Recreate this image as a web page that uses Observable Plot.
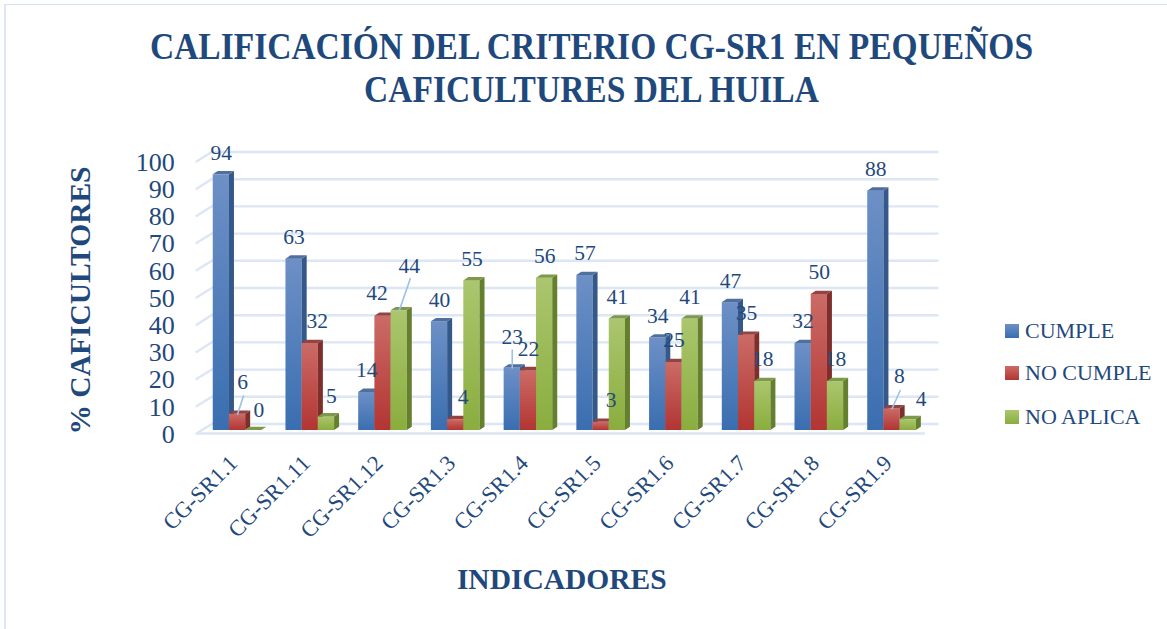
<!DOCTYPE html>
<html lang="es">
<head>
<meta charset="utf-8">
<title>Calificación del criterio CG-SR1</title>
<script src="https://cdn.jsdelivr.net/npm/d3@7"></script>
<script src="https://cdn.jsdelivr.net/npm/@observablehq/plot@0.6"></script>
<style>
  html, body { margin: 0; padding: 0; background: #fff; }
  body { width: 1167px; height: 629px; overflow: hidden; position: relative; font-family: "Liberation Serif", serif; color: #1f497d; }
  #frame { position: absolute; left: 4px; top: 4px; right: -4px; bottom: -4px; border-left: 2.5px solid #dce6f4; border-top: 1.5px solid #d3e2f4; pointer-events: none; }
  #title { height: 130px; box-sizing: border-box; padding-top: 25px; margin: 0; text-align: center; font-size: 38.5px; line-height: 43px; font-weight: 700; position: relative; left: 7.5px; transform: scaleX(0.87); transform-origin: 583.5px 0; }
  #chart svg { display: block; }
  .legend { position: absolute; left: 1005px; display: flex; align-items: center; font-size: 22px; line-height: 26px; white-space: nowrap; }
  .legend i { display: block; width: 14px; height: 14px; margin-right: 6px; }
</style>
</head>
<body>
<div id="frame"></div>
<h1 id="title">CALIFICACIÓN DEL CRITERIO CG-SR1 EN PEQUEÑOS<br>CAFICULTURES DEL HUILA</h1>
<div id="chart"></div>
<div id="legend"></div>
<script>
const categories = ["CG-SR1.1","CG-SR1.11","CG-SR1.12","CG-SR1.3","CG-SR1.4","CG-SR1.5","CG-SR1.6","CG-SR1.7","CG-SR1.8","CG-SR1.9"];
const cumple   = [94,63,14,40,23,57,34,47,32,88];
const noCumple = [ 6,32,42, 4,22, 3,25,35,50, 8];
const noAplica = [ 0, 5,44,55,56,41,41,18,18, 4];
const seriesNames = ["CUMPLE","NO CUMPLE","NO APLICA"];
const yTicks = [0,10,20,30,40,50,60,70,80,90,100];

const ink = "#1f497d";
const gridColor = "#dce6f4";
const barWidth = 16.2;
const depthX = 5, depthY = 3.3;

const look = [
  {id:"blue",  top:"#6d90c6", bottom:"#3a6eb0", side:"#35588a", cap:"#4f6f9f"},
  {id:"red",   top:"#cb6b67", bottom:"#b23532", side:"#7e2f2c", cap:"#934340"},
  {id:"green", top:"#abc66e", bottom:"#8aad3e", side:"#64802f", cap:"#7c9a4a"}
];

const rows = seriesNames.map((name, s) =>
  categories.map((c, i) => ({category:c, series:name, value:[cumple,noCumple,noAplica][s][i], s, i})));

// Hand placement of the labels that do not sit in the default spot above their bar
const labelNudge = {
  "CG-SR1.1|NO CUMPLE":[5,-32], "CG-SR1.1|NO APLICA":[5,-20],
  "CG-SR1.11|NO CUMPLE":[7,-22], "CG-SR1.11|NO APLICA":[5,-21],
  "CG-SR1.12|NO CUMPLE":[-6,-23], "CG-SR1.12|NO APLICA":[10,-45],
  "CG-SR1.3|NO CUMPLE":[7.5,-23],
  "CG-SR1.4|CUMPLE":[0,-31],
  "CG-SR1.5|NO CUMPLE":[10,-22],
  "CG-SR1.9|NO CUMPLE":[7.4,-33], "CG-SR1.9|NO APLICA":[13,-21]
};
// Leader lines: [category, series, length, rotation]
const leaders = [
  ["CG-SR1.1","NO CUMPLE",19,18],
  ["CG-SR1.12","NO APLICA",34,19],
  ["CG-SR1.4","CUMPLE",18,0],
  ["CG-SR1.9","NO CUMPLE",20,24]
];

const offsetOf = s => (s - 1) * barWidth;

function defs() {
  const d = d3.create("svg:defs");
  for (const l of look) {
    const g = d.append("linearGradient").attr("id", l.id).attr("x1",0).attr("y1",0).attr("x2",0).attr("y2",1);
    g.append("stop").attr("offset","0%").attr("stop-color", l.top);
    g.append("stop").attr("offset","100%").attr("stop-color", l.bottom);
  }
  return d.node();
}

// Adds the side and the cap of each bar from the rect the library has just drawn
const extrude = l => function(index, scales, values, dimensions, context, next) {
  const g = next(index, scales, values, dimensions, context);
  for (const rect of Array.from(g.querySelectorAll("rect"))) {
    const x = +rect.getAttribute("x"), y = +rect.getAttribute("y");
    const w = +rect.getAttribute("width"), h = +rect.getAttribute("height");
    const NS = "http://www.w3.org/2000/svg";
    const side = document.createElementNS(NS, "polygon");
    side.setAttribute("points", `${x+w},${y} ${x+w+depthX},${y-depthY} ${x+w+depthX},${y+h-depthY} ${x+w},${y+h}`);
    side.setAttribute("fill", l.side);
    const cap = document.createElementNS(NS, "polygon");
    cap.setAttribute("points", `${x},${y} ${x+depthX},${y-depthY} ${x+w+depthX},${y-depthY} ${x+w},${y}`);
    cap.setAttribute("fill", l.cap);
    rect.after(side, cap);
  }
  return g;
};

const leaderShape = {draw(ctx, len) { ctx.moveTo(0,0); ctx.lineTo(0,-len); }};

const gridOptions = {stroke:gridColor, strokeWidth:2.4};

const marks = [
  defs,
  Plot.ruleY(yTicks, {...gridOptions, dy:-6.5, insetLeft:11.5, insetRight:-10.5}),
  Plot.vector(yTicks, {y:d=>d, frameAnchor:"left", length:19, rotate:58, anchor:"start", shape:leaderShape, dx:-4.7, dy:3, ...gridOptions}),
  Plot.ruleY([0], {...gridOptions, dy:3, insetLeft:-4.7, insetRight:3}),
  ...rows.map((data, s) => Plot.barY(data, {
    x:"category", y:"value", dx:offsetOf(s), fill:`url(#${look[s].id})`, render:extrude(look[s])
  })),
  ...leaders.map(([c, sn, length, rotate]) => {
    const s = seriesNames.indexOf(sn);
    return Plot.vector(rows[s].filter(d => d.category === c), {
      x:"category", y:"value", dx:offsetOf(s), length, rotate, anchor:"start", shape:leaderShape,
      stroke:"#9dbfe8", strokeWidth:1.6
    });
  }),
  ...rows.flat().map(d => {
    const [nx, ny] = labelNudge[`${d.category}|${d.series}`] || [0,-22];
    return Plot.text([d], {
      x:"category", y:"value", text:"value", dx:offsetOf(d.s)+nx, dy:ny,
      fontSize:21.5, fill:ink, lineAnchor:"middle"
    });
  }),
  Plot.axisY({ticks:yTicks, tickSize:0, tickPadding:26.5, dy:4, fontSize:26, fill:ink, label:null}),
  Plot.axisX({tickRotate:-45, tickSize:0, tickPadding:29, dx:-4, fontSize:22.5, fill:ink, label:null}),
  Plot.text(["INDICADORES"], {frameAnchor:"bottom", dy:149, dx:-3, fontSize:29.5, fontWeight:700, fill:ink, lineAnchor:"middle"}),
  Plot.text(["% CAFICULTORES"], {frameAnchor:"left", textAnchor:"middle", rotate:-90, dx:-121, dy:6, fontSize:29.5, fontWeight:700, fill:ink, lineAnchor:"middle"})
];

const chart = Plot.plot({
  width:1167, height:499,
  marginLeft:200.7, marginRight:239.1, marginTop:28, marginBottom:199,
  style:{background:"transparent", color:ink, fontFamily:'"Liberation Serif", serif', overflow:"visible"},
  x:{domain:categories, paddingInner:0.777, paddingOuter:0.3885, round:false, axis:null},
  y:{domain:[0,100], axis:null},
  marks
});
document.getElementById("chart").append(chart);

const legendTops = [318, 360, 404];
const legend = document.getElementById("legend");
seriesNames.forEach((name, s) => {
  const row = document.createElement("div");
  row.className = "legend";
  row.style.top = legendTops[s] + "px";
  const sw = document.createElement("i");
  sw.style.background = `linear-gradient(${look[s].top}, ${look[s].bottom})`;
  row.append(sw, document.createTextNode(name));
  legend.append(row);
});
</script>
</body>
</html>
